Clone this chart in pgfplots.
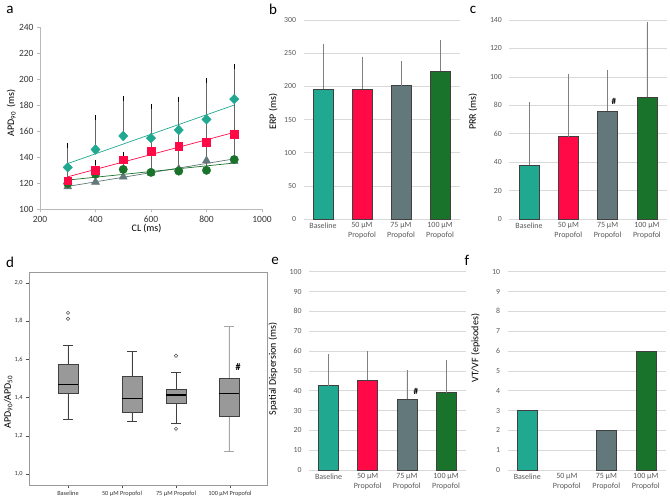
\documentclass[border=0pt]{standalone}
\usepackage{fontspec}
\setmainfont{Carlito}
\usepackage{pgfplots}
\pgfplotsset{compat=1.18}
\usepgfplotslibrary{statistics}
\definecolor{cteal}{RGB}{32,168,145}
\definecolor{cred}{RGB}{255,10,71}
\definecolor{cgray}{RGB}{98,120,122}
\definecolor{cgreen}{RGB}{26,115,42}
\definecolor{gridc}{RGB}{217,217,217}
\definecolor{tickc}{RGB}{89,89,89}
\definecolor{boxc}{RGB}{153,153,153}
\pgfplotsset{
  barax/.style={
    scale only axis, anchor=south west, ymin=0, xmin=-0.5, xmax=3.5,
    xtick={0,1,2,3},
    xticklabels={Baseline,{50 µM\\Propofol},{75 µM\\Propofol},{100 µM\\Propofol}},
    xticklabel style={align=center, font=\fontsize{8}{9.5}\selectfont, text=tickc},
    yticklabel style={font=\fontsize{7.8}{9}\selectfont, text=tickc, xshift=-4pt},
    /pgf/number format/assume math mode=true,
    axis line style={draw=none}, major tick style={draw=none},
    ymajorgrids, grid style={gridc, line width=0.6pt},
    ylabel style={font=\bfseries\fontsize{8.3}{9}\selectfont, text=black},
  },
  barnoerr/.style={ybar, bar width=20pt, bar shift=0pt, draw=black!75, line width=0.7pt, fill=#1},
  barp/.style={ybar, bar width=20pt, bar shift=0pt, draw=black!75, line width=0.7pt, fill=#1,
    error bars/y dir=plus, error bars/y explicit,
    error bars/error bar style={color=gray, line width=0.6pt},
    error bars/error mark options={color=gray, mark size=2.6pt, line width=0.6pt}},
  serp/.style={only marks, color=#1,
    error bars/y dir=plus, error bars/y explicit,
    error bars/error bar style={color=black!60, line width=0.6pt},
    error bars/error mark options={color=black, mark size=2.5pt, line width=0.6pt}},
}
\begin{document}
\begin{tikzpicture}
\useasboundingbox (0,0) rectangle (670pt,-498pt);
% panel letters
\node[font=\fontsize{15}{16}\selectfont, anchor=center] at (10pt,-10pt) {a};
\node[font=\fontsize{15}{16}\selectfont, anchor=center] at (273pt,-9pt) {b};
\node[font=\fontsize{15}{16}\selectfont, anchor=center] at (473pt,-10pt) {c};
\node[font=\fontsize{15}{16}\selectfont, anchor=center] at (10pt,-262pt) {d};
\node[font=\fontsize{15}{16}\selectfont, anchor=center] at (275pt,-261pt) {e};
\node[font=\fontsize{15}{16}\selectfont, anchor=center] at (467pt,-260pt) {f};

% ---------------- a ----------------
\begin{axis}[scale only axis, anchor=south west, at={(40pt,-209.3pt)},
  width=222pt, height=182pt,
  xmin=200, xmax=1000, ymin=100, ymax=240,
  xtick={200,400,600,800,1000}, ytick={100,120,140,160,180,200,220,240},
  axis lines*=left, axis line style={gray!55},
  tick align=outside, major tick length=3pt, tick style={gray!55},
  ticklabel style={font=\fontsize{9.5}{10}\selectfont, text=black!80},
  /pgf/number format/assume math mode=true,
  /pgf/number format/1000 sep={},
  xlabel={CL (ms)}, ylabel={APD\textsubscript{90}\, (ms)},
  xlabel style={font=\bfseries\fontsize{8.5}{9}\selectfont},
  ylabel style={font=\bfseries\fontsize{9.5}{10}\selectfont},
  every axis x label/.style={at={(axis description cs:0.48,-0.105)}, anchor=center},
  every axis y label/.style={at={(axis description cs:-0.13,0.53)}, anchor=center, rotate=90},
  clip=false]
\addplot[cgray, line width=0.7pt] coordinates {(300,117.6) (900,138.8)};
\addplot[cgreen, line width=0.7pt] coordinates {(300,122.5) (900,135.6)};
\addplot[cred, line width=0.7pt] coordinates {(300,125.0) (900,159.2)};
\addplot[cteal, line width=0.7pt] coordinates {(300,135.2) (900,180.2)};
\addplot[serp=cgray, mark=triangle*, mark size=4.6pt, mark options={fill=cgray, draw=cgray}] coordinates {
 (300,117.4) +- (0,8) (400,121.0) +- (0,8) (500,125.0) +- (0,9) (600,128.0) +- (0,9)
 (700,131.0) +- (0,10) (800,137.5) +- (0,10) (900,137.0) +- (0,11)};
\addplot[serp=cgreen, mark=*, mark size=4.2pt, mark options={fill=cgreen, draw=cgreen}] coordinates {
 (300,119.8) +- (0,10) (400,127.0) +- (0,9) (500,130.7) +- (0,11) (600,128.4) +- (0,26)
 (700,129.4) +- (0,25) (800,130.0) +- (0,30) (900,138.3) +- (0,26)};
\addplot[serp=cred, mark=square*, mark size=3.9pt, mark options={fill=cred, draw=cred}] coordinates {
 (300,122.0) +- (0,19) (400,129.8) +- (0,6) (500,138.2) +- (0,4) (600,144.5) +- (0,20)
 (700,148.7) +- (0,25) (800,151.6) +- (0,30) (900,157.9) +- (0,37)};
\addplot[serp=cteal, mark=diamond*, mark size=4.8pt, mark options={fill=cteal, draw=cteal, xscale=1.3}] coordinates {
 (300,132.3) +- (0,16.7) (400,146.0) +- (0,24.5) (500,156.4) +- (0,29) (600,154.8) +- (0,24.4)
 (700,161.0) +- (0,23.8) (800,169.2) +- (0,30.2) (900,184.8) +- (0,25.4)};
\end{axis}

% ---------------- b ----------------
\begin{axis}[barax, at={(303.5pt,-219pt)}, width=156pt, height=199pt,
  ymax=300, ytick={0,50,100,150,200,250,300},
  ylabel={ERP (ms)},
  every axis y label/.style={at={(axis description cs:-0.195,0.54)}, anchor=center, rotate=90}]
\addplot[barp=cteal] coordinates {(0,195.5) +- (0,64.5)};
\addplot[barp=cred] coordinates {(1,196.0) +- (0,44.7)};
\addplot[barp=cgray] coordinates {(2,201.0) +- (0,32.7)};
\addplot[barp=cgreen] coordinates {(3,222.6) +- (0,43.4)};
\end{axis}

% ---------------- c ----------------
\begin{axis}[barax, at={(509.4pt,-219pt)}, width=157.2pt, height=199pt,
  ymax=140, ytick={0,20,40,60,80,100,120,140},
  ylabel={PRR (ms)}, clip=false,
  every axis y label/.style={at={(axis description cs:-0.232,0.54)}, anchor=center, rotate=90}]
\addplot[barp=cteal] coordinates {(0,37.8) +- (0,42.9)};
\addplot[barp=cred] coordinates {(1,57.9) +- (0,42.2)};
\addplot[barp=cgray] coordinates {(2,75.7) +- (0,27.5)};
\addplot[barp=cgreen] coordinates {(3,85.8) +- (0,51.2)};
\node[font=\bfseries\fontsize{9}{10}\selectfont] at (axis cs:2.16,82.5) {\#};
\end{axis}

% ---------------- d ----------------
\begin{axis}[scale only axis, anchor=south west, at={(29pt,-485pt)},
  width=238pt, height=213pt,
  xmin=-0.722, xmax=3.685, ymin=0.942, ymax=2.058,
  boxplot/draw direction=y,
  xtick={0,1,2,3},
  xticklabels={Baseline,50 µM Propofol,75 µM Propofol,100 µM Propofol},
  ytick={1.0,1.2,1.4,1.6,1.8,2.0},
  yticklabels={{1,0},{1,2},{1,4},{1,6},{1,8},{2,0}},
  ticklabel style={font=\fontsize{6.3}{7}\selectfont, text=black!80},
  axis line style={gray!80, line width=0.6pt},
  tick pos=left, tick align=outside, major tick length=3pt,
  tick style={black!70, line width=0.5pt},
  ylabel={APD\textsubscript{90}/APD\textsubscript{50}},
  ylabel style={font=\bfseries\fontsize{10.5}{11}\selectfont},
  every axis y label/.style={at={(axis description cs:-0.088,0.39)}, anchor=center, rotate=90},
  boxplot/every median/.style={line width=1.3pt, black},
  clip=false]
\addplot[boxplot prepared={draw position=0, lower whisker=1.287, lower quartile=1.421,
   median=1.470, upper quartile=1.575, upper whisker=1.675, box extend=0.37, whisker extend=0.18},
   draw=black!75, fill=boxc, line width=0.7pt,
   mark=o, mark size=1.7pt, mark options={draw=black!70, fill=none, line width=0.5pt}]
   table[y index=0, row sep=\\] {1.844\\ 1.813\\};
\addplot[boxplot prepared={draw position=1.185, lower whisker=1.274, lower quartile=1.325,
   median=1.395, upper quartile=1.510, upper whisker=1.640, box extend=0.37, whisker extend=0.18},
   draw=black!75, fill=boxc, line width=0.7pt] coordinates {};
\addplot[boxplot prepared={draw position=2, lower whisker=1.265, lower quartile=1.369,
   median=1.413, upper quartile=1.444, upper whisker=1.531, box extend=0.37, whisker extend=0.18},
   draw=black!75, fill=boxc, line width=0.7pt,
   mark=o, mark size=1.7pt, mark options={draw=black!70, fill=none, line width=0.5pt}]
   table[y index=0, row sep=\\] {1.619\\ 1.236\\};
\addplot[boxplot prepared={draw position=2.98, lower whisker=1.119, lower quartile=1.302,
   median=1.423, upper quartile=1.502, upper whisker=1.771, box extend=0.37, whisker extend=0.18,
   every whisker/.style={gray!70, line width=0.8pt}},
   draw=black!75, fill=boxc, line width=0.7pt] coordinates {};
\node[font=\bfseries\fontsize{10}{11}\selectfont] at (axis cs:3.15,1.56) {\#};
\end{axis}

% ---------------- e ----------------
\begin{axis}[barax, at={(309pt,-470pt)}, width=156.6pt, height=198.3pt,
  ymax=100, ytick={0,10,20,30,40,50,60,70,80,90,100},
  ylabel={Spatial Dispersion (ms)}, clip=false,
  every axis y label/.style={at={(axis description cs:-0.23,0.51)}, anchor=center, rotate=90}]
\addplot[barp=cteal] coordinates {(0,42.5) +- (0,14.6)};
\addplot[barp=cred] coordinates {(1,45.2) +- (0,13.5)};
\addplot[barp=cgray] coordinates {(2,35.8) +- (0,13.4)};
\addplot[barp=cgreen] coordinates {(3,39.0) +- (0,15.3)};
\node[font=\bfseries\fontsize{9}{10}\selectfont] at (axis cs:2.23,39.5) {\#};
\end{axis}

% ---------------- f ----------------
\begin{axis}[barax, at={(507.6pt,-470pt)}, width=158pt, height=198.3pt,
  ymax=10, ytick={0,1,2,3,4,5,6,7,8,9,10},
  ylabel={VT/VF (episodes)},
  every axis y label/.style={at={(axis description cs:-0.203,0.615)}, anchor=center, rotate=90}]
\addplot[barnoerr=cteal] coordinates {(0,3)};
\addplot[barnoerr=cgray] coordinates {(2,2)};
\addplot[barnoerr=cgreen] coordinates {(3,6)};
\end{axis}
\end{tikzpicture}
\end{document}
